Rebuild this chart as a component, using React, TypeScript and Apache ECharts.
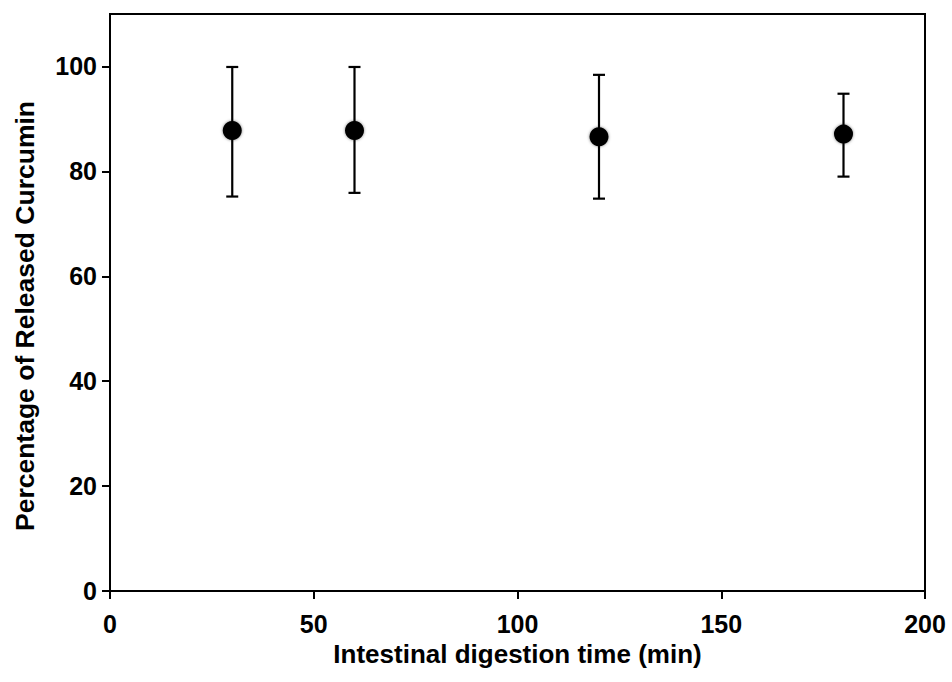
import React, { useEffect, useRef } from "react";
import * as echarts from "echarts";

const times = [30, 60, 120, 180];
const means = [87.8, 87.8, 86.6, 87.1];
const upper = [99.9, 99.9, 98.4, 94.8];
const lower = [75.2, 75.9, 74.8, 79.0];
const yTicks = [0, 20, 40, 60, 80, 100];
const xTicks = [0, 50, 100, 150, 200];

const FONT = "'Liberation Sans', Arial, sans-serif";

export default function App() {
  const ref = useRef<HTMLDivElement>(null);
  useEffect(() => {
    if (!ref.current) return;
    const chart = echarts.init(ref.current, null, { renderer: "svg" });
    const errData = times.map((t, i) => [t, lower[i], upper[i]]);
    const pts = times.map((t, i) => [t, means[i]]);
    chart.setOption({
      animation: false,
      backgroundColor: "#fff",
      grid: {
        left: 110,
        right: 27,
        top: 14,
        bottom: 91,
        show: true,
        borderColor: "#000",
        borderWidth: 2,
        containLabel: false,
      },
      graphic: [
        {
          type: "text",
          x: 25,
          y: 316,
          rotation: Math.PI / 2,
          style: {
            text: "Percentage of Released Curcumin",
            fontFamily: FONT,
            fontWeight: "bold",
            fontSize: 26.5,
            fill: "#000",
            textAlign: "center",
            textVerticalAlign: "middle",
          },
        },
      ],
      xAxis: {
        type: "value",
        min: 0,
        max: 200,
        interval: 50,
        name: "Intestinal digestion time (min)",
        nameLocation: "middle",
        nameGap: 46,
        nameTextStyle: { fontFamily: FONT, fontWeight: "bold", fontSize: 26, color: "#000" },
        axisLine: { show: true, lineStyle: { color: "#000", width: 2 } },
        axisTick: { show: true, inside: false, length: 8, lineStyle: { color: "#000", width: 2 }, customValues: xTicks },
        axisLabel: { fontFamily: FONT, fontWeight: "bold", fontSize: 25, color: "#000", margin: 20, customValues: xTicks },
        splitLine: { show: false },
      },
      yAxis: {
        type: "value",
        min: 0,
        max: 110,
        interval: 20,
        axisLine: { show: true, lineStyle: { color: "#000", width: 2 } },
        axisTick: { show: true, inside: false, length: 8, lineStyle: { color: "#000", width: 2 }, customValues: yTicks },
        axisLabel: { fontFamily: FONT, fontWeight: "bold", fontSize: 25, color: "#000", margin: 13, customValues: yTicks },
        splitLine: { show: false },
      },
      series: [
        {
          type: "custom",
          data: errData,
          z: 2,
          renderItem: (params: any, api: any) => {
            const x = api.value(0);
            const lo = api.coord([x, api.value(1)]);
            const hi = api.coord([x, api.value(2)]);
            const hw = 6;
            const style = { stroke: "#000", lineWidth: 2.2 };
            return {
              type: "group",
              children: [
                { type: "line", shape: { x1: lo[0], y1: lo[1], x2: hi[0], y2: hi[1] }, style },
                { type: "line", shape: { x1: lo[0] - hw, y1: lo[1], x2: lo[0] + hw, y2: lo[1] }, style },
                { type: "line", shape: { x1: hi[0] - hw, y1: hi[1], x2: hi[0] + hw, y2: hi[1] }, style },
              ],
            };
          },
        },
        {
          type: "scatter",
          data: pts,
          z: 3,
          symbol: "circle",
          symbolSize: 19,
          itemStyle: {
            color: "#000",
            opacity: 1,
            shadowBlur: 3,
            shadowColor: "rgba(0,0,0,0.5)",
          },
        },
      ],
    });
    return () => chart.dispose();
  }, []);
  return <div ref={ref} style={{ width: 952, height: 682, position: "absolute", left: 0, top: 0 }} />;
}
